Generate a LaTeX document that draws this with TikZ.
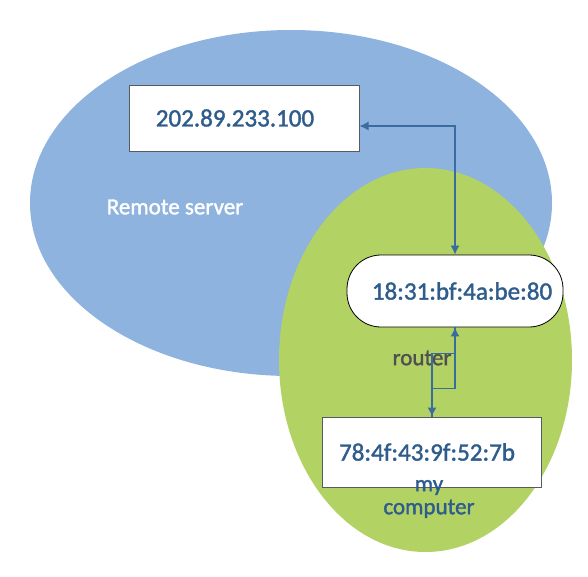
\documentclass[tikz,border=0pt]{standalone}
\usepackage{fontspec}
\setmainfont{Carlito}[FakeBold=1.5]
\usetikzlibrary{arrows.meta}
\definecolor{bluefill}{RGB}{141,179,222}
\definecolor{greenfill}{RGB}{178,210,100}
\definecolor{txtblue}{RGB}{46,92,140}
\definecolor{lineblue}{RGB}{58,108,160}
\definecolor{boxgray}{RGB}{85,90,100}
\definecolor{routergray}{RGB}{80,80,80}
\tikzset{
  addrbox/.style={draw=boxgray, line width=1pt, fill=white, text=txtblue, font=\fontsize{25}{28}\selectfont, inner sep=0pt},
  conn/.style={draw=lineblue, line width=1.4pt, -{Latex[length=9pt,width=9pt]}},
  biconn/.style={draw=lineblue, line width=1.4pt, {Latex[length=9pt,width=9pt]}-{Latex[length=9pt,width=9pt]}},
  lbl/.style={font=\fontsize{23}{23}\selectfont, inner sep=0pt}
}
\begin{document}
\begin{tikzpicture}[x=1pt,y=-1pt]
\useasboundingbox (0,0) rectangle (588,576);
\fill[bluefill] (291,203) ellipse [x radius=261, y radius=173];
\fill[greenfill] (425.5,360) ellipse [x radius=146.5, y radius=192];
\node[addrbox, minimum width=230pt, minimum height=66pt] (server) at (244,118) {202.89.233.100\hspace*{18pt}};
\node[addrbox, draw=black, line width=0.8pt, rounded corners=34pt, minimum width=216pt, minimum height=72pt] (router) at (455,291) {\hspace*{14pt}18:31:bf:4a:be:80};
\node[addrbox, minimum width=219pt, minimum height=70pt] (computer) at (432,452) {78:4f:43:9f:52:7b\hspace*{10pt}};
\node[lbl, text=white] (rs) at (175,207) {Remote server};
\node[lbl, text=routergray] (rl) at (422,358) {router};
\node[lbl, text=txtblue, align=center] (mc) at (429,499) {my\\computer};
\draw[biconn] ([yshift=-8pt]server.east) -| (router.north);
\draw[conn] (computer.north) -- ++(0,-28) -| (router.south);
\draw[conn] (router.south) -- ++(0,26) -| (computer.north);
\end{tikzpicture}
\end{document}
